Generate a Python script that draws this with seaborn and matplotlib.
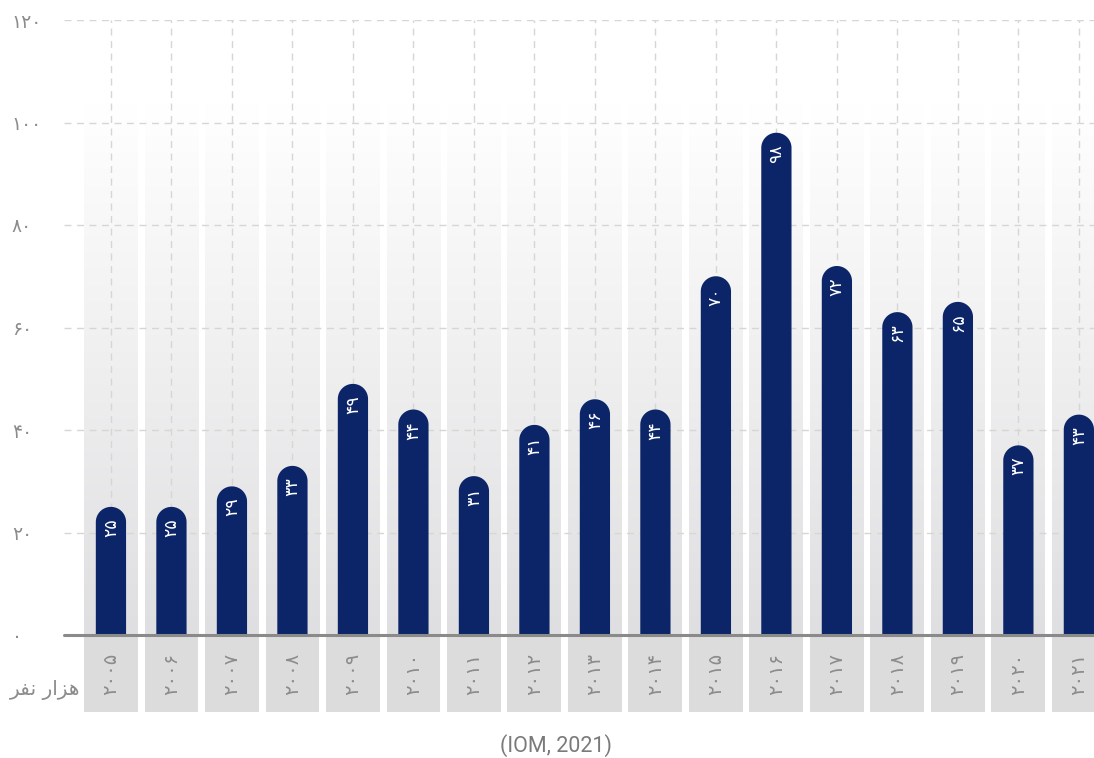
import numpy as np
import pandas as pd
import matplotlib
matplotlib.use("Agg")
import matplotlib.pyplot as plt
import matplotlib.transforms as mtransforms
from matplotlib.patches import Polygon, Rectangle
import seaborn as sns

# ---------------- data ----------------
years = [2005, 2006, 2007, 2008, 2009, 2010, 2011, 2012, 2013,
         2014, 2015, 2016, 2017, 2018, 2019, 2020, 2021]
values = [25, 25, 29, 33, 49, 44, 31, 41, 46, 44, 70, 98, 72, 63, 65, 37, 43]
yticks = [0, 20, 40, 60, 80, 100, 120]
unit_label = "هزار نفر"
source_label = "(IOM, 2021)"

# ---------------- helpers ----------------
PERSIAN = str.maketrans("0123456789", "۰۱۲۳۴۵۶۷۸۹")


def fa(n):
    return str(n).translate(PERSIAN)


# isolated, final, initial, medial presentation forms
FORMS = {
    "ه": ("\uFEE9", "\uFEEA", "\uFEEB", "\uFEEC"),
    "ز": ("\uFEAF", "\uFEB0", None, None),
    "ا": ("\uFE8D", "\uFE8E", None, None),
    "ر": ("\uFEAD", "\uFEAE", None, None),
    "ن": ("\uFEE5", "\uFEE6", "\uFEE7", "\uFEE8"),
    "ف": ("\uFED1", "\uFED2", "\uFED3", "\uFED4"),
}


def shape(text):
    out = []
    n = len(text)
    for i, ch in enumerate(text):
        if ch not in FORMS:
            out.append(ch)
            continue
        prev = text[i - 1] if i > 0 else None
        nxt = text[i + 1] if i < n - 1 else None
        join_prev = prev in FORMS and FORMS[prev][2] is not None
        join_next = (nxt in FORMS) and FORMS[ch][2] is not None
        iso, fin, ini, med = FORMS[ch]
        if join_prev and join_next:
            out.append(med)
        elif join_prev:
            out.append(fin)
        elif join_next:
            out.append(ini)
        else:
            out.append(iso)
    return "".join(out)[::-1]


# ---------------- figure ----------------
sns.set_theme(style="white")
plt.rcParams["font.family"] = ["DejaVu Sans"]

W, H = 1094, 758
fig = plt.figure(figsize=(W / 100, H / 100), dpi=100)
ax = fig.add_axes([64 / W, (H - 635) / H, (W - 64) / W, 615 / H])

df = pd.DataFrame({"year": [str(y) for y in years], "value": values})
navy = "#0b2568"
sns.barplot(data=df, x="year", y="value", color=navy, width=0.5,
            saturation=1, ax=ax, zorder=3)

xmin, xmax = -0.776, 16.25
ax.set_xlim(xmin, xmax)
ax.set_ylim(0, 120)

# aspect for rounded caps
ux = (xmax - xmin) / ax.bbox.width
uy = 120 / ax.bbox.height
aspect = uy / ux

# gradient background columns
grad = np.linspace(0, 1, 256).reshape(-1, 1)
top_c = np.array([1.0, 1.0, 1.0])
bot_c = np.array([0xdf, 0xdf, 0xe1]) / 255
img = (top_c[None, None, :] * (1 - grad[..., None]) + bot_c[None, None, :] * grad[..., None])
colw = 0.89
for i in range(len(years)):
    ax.imshow(img, extent=(i - colw / 2, i + colw / 2, 0, 104), aspect="auto",
              zorder=0, interpolation="bilinear")
ax.set_xlim(xmin, xmax)
ax.set_ylim(0, 120)

# grid lines
for yv in yticks[1:]:
    ax.axhline(yv, color="#d6d6d6", lw=1, ls=(0, (5, 4)), zorder=1)
for i in range(len(years)):
    ax.plot([i, i], [0, 120], color="#d6d6d6", lw=1, ls=(0, (5, 4)), zorder=1)

# rounded bars: replace each seaborn bar by the same bar with a semicircular top
theta = np.linspace(0, np.pi, 60)
for p in list(ax.patches):
    x0 = p.get_x()
    w = p.get_width()
    h = p.get_height()
    r = w / 2
    ry = r * aspect
    cx = x0 + r
    cy = h - ry
    arc = np.column_stack([cx + r * np.cos(theta), cy + ry * np.sin(theta)])
    pts = np.vstack([[x0 + w, 0], arc, [x0, 0]])
    p.remove()
    ax.add_patch(Polygon(pts, closed=True, facecolor=navy, edgecolor="none",
                         zorder=3))

# value labels
for i, v in enumerate(values):
    ax.text(i, v - 2.2, fa(v), rotation=90, ha="center", va="top",
            color="white", fontsize=12.5, zorder=4)

# baseline
ax.axhline(0, color="#8a8a8a", lw=2.2, zorder=5, clip_on=False)

# bottom label boxes
trans = mtransforms.blended_transform_factory(ax.transData, ax.transAxes)
for i, y in enumerate(years):
    ax.add_patch(Rectangle((i - colw / 2, -0.1252), colw, 0.1219,
                           transform=trans, facecolor="#dcdcdc",
                           edgecolor="none", clip_on=False, zorder=1))
    ax.text(i, -0.063, fa(y), transform=trans, rotation=90, ha="center",
            va="center", color="#8c8c8c", fontsize=14, zorder=2)

# y tick labels
ax.set_yticks(yticks)
ax.set_yticklabels([fa(t) for t in yticks])
ax.tick_params(axis="y", length=0, pad=37.5, labelsize=13.5, labelcolor="#8c8c8c")
for lab in ax.get_yticklabels():
    lab.set_horizontalalignment("left")
ax.set_xticks([])
ax.set_xlabel("")
ax.set_ylabel("")
for s in ax.spines.values():
    s.set_visible(False)
ax.set_facecolor("white")

# unit label and source
fig.text(80 / W, 1 - 690 / H, shape(unit_label), ha="right", va="center",
         color="#8c8c8c", fontsize=14.5)
fig.text(556 / W, 1 - 746 / H, source_label, ha="center", va="center",
         color="#7a7a7a", fontsize=15.5, family=["Roboto", "DejaVu Sans"])

fig.savefig("out.png", dpi=100)
